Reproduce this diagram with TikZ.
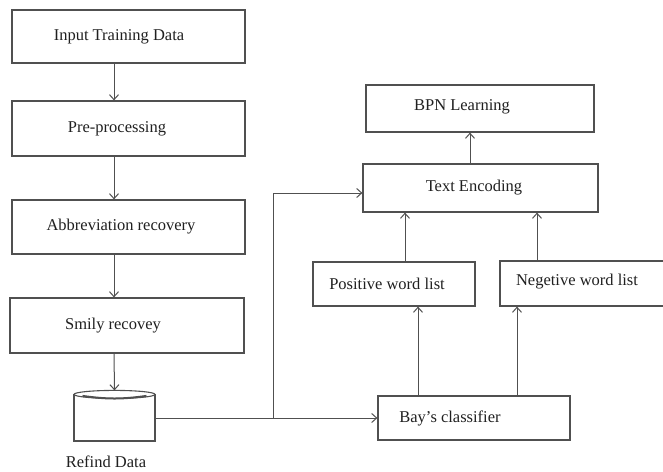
\documentclass[tikz,border=0pt]{standalone}
\usepackage{fontspec}
\setmainfont{Liberation Serif}
\usetikzlibrary{arrows.meta,calc}
\definecolor{linec}{HTML}{505050}
\definecolor{textc}{HTML}{202020}
\begin{document}
\begin{tikzpicture}[x=1pt,y=-1pt,
  box/.style={draw=linec, line width=1.2pt, rectangle, inner sep=0pt},
  lbl/.style={font=\fontsize{16.5}{19}\selectfont, text=textc},
  arr/.style={draw=linec, line width=1pt, -{Straight Barb[length=5pt,width=9pt]}},
  ln/.style={draw=linec, line width=1pt}]
\path[use as bounding box, clip] (0,0) rectangle (663,471);
\fill[white] (0,0) rectangle (663,471);

% left column
\node[box, minimum width=233, minimum height=53, label={[lbl, xshift=-9.5]center:Input Training Data}] (b1) at (128.5,36.5) {};
\node[box, minimum width=233, minimum height=55, label={[lbl, xshift=-11.5]center:Pre-processing}] (b2) at (128.5,128.5) {};
\node[box, minimum width=233, minimum height=54, label={[lbl, xshift=-7.5]center:Abbreviation recovery}] (b3) at (128.5,227) {};
\node[box, minimum width=234, minimum height=55, label={[lbl, xshift=-14]center:Smily recovey}] (b4) at (127,325.5) {};

% database cylinder
\node[box, minimum width=81, minimum height=46] (ref) at (114.5,418) {};
\draw[linec, line width=1.1pt, fill=white] (ref.north) ellipse [x radius=40.5, y radius=4];
\draw[linec, line width=2pt] ($(ref.north)+(-32,1.5)$) to[bend right=8] ($(ref.north)+(32,1.5)$);
\node[lbl] (reflbl) at (106,462) {Refind Data};

% right side
\node[box, minimum width=228, minimum height=47, label={[lbl, xshift=-18, yshift=2]center:BPN Learning}] (bpn) at (480,108.5) {};
\node[box, minimum width=235, minimum height=48, label={[lbl, xshift=-6.5]center:Text Encoding}] (te) at (480.5,188) {};
\node[box, minimum width=162, minimum height=44, label={[lbl, xshift=-7]center:Positive word list}] (pos) at (394,284) {};
\node[box, minimum width=166, minimum height=45, label={[lbl, xshift=-6, yshift=1.5]center:Negetive word list}] (neg) at (583,283.5) {};
\node[box, minimum width=192, minimum height=44, label={[lbl, xshift=-24]center:Bay's classifier}] (bay) at (474,418) {};

% column coordinates
\coordinate (col) at (114,0);
\coordinate (cA) at (418,0);
\coordinate (cB) at (517,0);
\coordinate (cC) at (405,0);
\coordinate (cD) at (537,0);
\coordinate (cE) at (470,0);
\coordinate (j) at (273,418);

% connectors left
\draw[arr] (b1.south -| col) -- (b2.north -| col);
\draw[arr] (b2.south -| col) -- (b3.north -| col);
\draw[arr] (b3.south -| col) -- (b4.north -| col);
\draw[arr] (b4.south -| col) -- ($(ref.north)+(0,-4)$);

% connectors right
\draw[arr] (ref.east) -- (bay.west);
\draw[arr] (j) |- ($(te.west)+(0,5)$);
\draw[arr] (bay.north -| cA) -- (pos.south -| cA);
\draw[arr] (bay.north -| cB) -- (neg.south -| cB);
\draw[arr] (pos.north -| cC) -- (te.south -| cC);
\draw[arr] (neg.north -| cD) -- (te.south -| cD);
\draw[arr] (te.north -| cE) -- (bpn.south -| cE);
\end{tikzpicture}
\end{document}
